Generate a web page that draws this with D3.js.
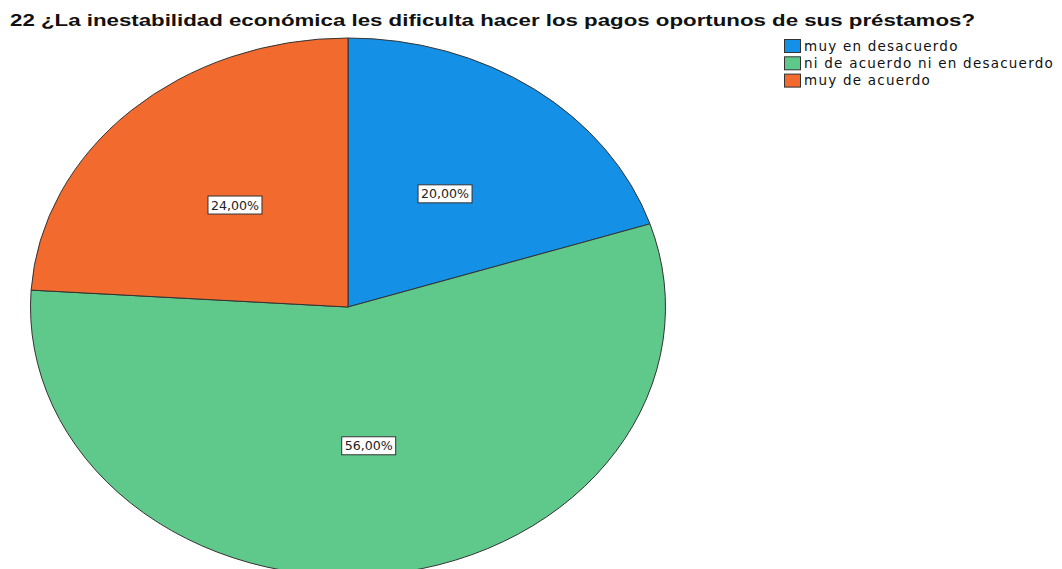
<!DOCTYPE html>
<html>
<head>
<meta charset="utf-8">
<script src="https://cdn.jsdelivr.net/npm/d3@7"></script>
<style>
  body { margin: 0; background: #fff; }
  svg { display: block; font-family: "Liberation Sans", Arial, sans-serif; }
</style>
</head>
<body>
<div id="chart"></div>
<script>
// chart data
const title = "22 ¿La inestabilidad económica les dificulta hacer los pagos oportunos de sus préstamos?";
const categories = ["muy en desacuerdo", "ni de acuerdo ni en desacuerdo", "muy de acuerdo"];
const percents = [20, 56, 24];
const colors = ["#1490e6", "#5ec98b", "#f26a2d"];

const width = 1062, height = 569;

const svg = d3.select("#chart")
  .append("svg")
  .attr("width", width)
  .attr("height", height);

// title
svg.append("text")
  .attr("x", 10)
  .attr("y", 26)
  .attr("font-size", 16)
  .attr("font-weight", "bold")
  .attr("fill", "#111")
  .attr("textLength", 965)
  .attr("lengthAdjust", "spacingAndGlyphs")
  .text(title);

// pie, drawn as a circle and stretched horizontally into an ellipse
const cx = 348, cy = 307, rx = 317.5, ry = 269;

const pie = d3.pie().sort(null).value(d => d.value);
const arcs = pie(categories.map((c, i) => ({ name: c, value: percents[i], color: colors[i] })));

const arc = d3.arc().innerRadius(0).outerRadius(ry);
const labelArc = d3.arc().innerRadius(ry * 0.52).outerRadius(ry * 0.52);

const g = svg.append("g")
  .attr("transform", `translate(${cx},${cy}) scale(${rx / ry},1)`);

g.selectAll("path")
  .data(arcs)
  .enter()
  .append("path")
  .attr("d", arc)
  .attr("fill", d => d.data.color)
  .attr("stroke", "#333")
  .attr("stroke-width", 1)
  .attr("vector-effect", "non-scaling-stroke");

// percentage labels in boxes
const fmt = v => v.toFixed(2).replace(".", ",") + "%";
const labels = svg.append("g").attr("transform", `translate(${cx},${cy})`);

arcs.forEach(d => {
  const c = labelArc.centroid(d);
  const x = c[0] * rx / ry, y = c[1];
  const lg = labels.append("g").attr("transform", `translate(${x},${y})`);
  lg.append("rect")
    .attr("x", -27).attr("y", -9)
    .attr("width", 54).attr("height", 18)
    .attr("fill", "#fff")
    .attr("stroke", "#333")
    .attr("stroke-width", 1);
  lg.append("text")
    .attr("text-anchor", "middle")
    .attr("dy", "0.36em")
    .attr("font-family", "DejaVu Sans, sans-serif")
    .attr("font-size", 12.5)
    .attr("fill", "#222")
    .attr("textLength", 48)
    .attr("lengthAdjust", "spacingAndGlyphs")
    .text(fmt(d.data.value));
});

// legend
const legend = svg.append("g").attr("transform", "translate(784,39)");
const rowH = 17.3;

const rows = legend.selectAll("g")
  .data(categories)
  .enter()
  .append("g")
  .attr("transform", (d, i) => `translate(0,${i * rowH})`);

rows.append("rect")
  .attr("x", 0.5).attr("y", 0.5)
  .attr("width", 16).attr("height", 13)
  .attr("fill", (d, i) => colors[i])
  .attr("stroke", "#333")
  .attr("stroke-width", 1);

const legendText = rows.append("text")
  .attr("x", 20)
  .attr("y", 7)
  .attr("dy", "0.36em")
  .attr("font-family", "DejaVu Sans, sans-serif")
  .attr("font-size", 13.5)
  .attr("fill", "#111")
  .text(d => d);

// spread the letters so the longest entry is as wide as in the picture
const longest = d3.max(legendText.nodes(), n => n.getComputedTextLength());
const longestChars = d3.max(categories, c => c.length);
const spacing = (250 - longest) / longestChars;
legendText.attr("letter-spacing", spacing);
</script>
</body>
</html>
